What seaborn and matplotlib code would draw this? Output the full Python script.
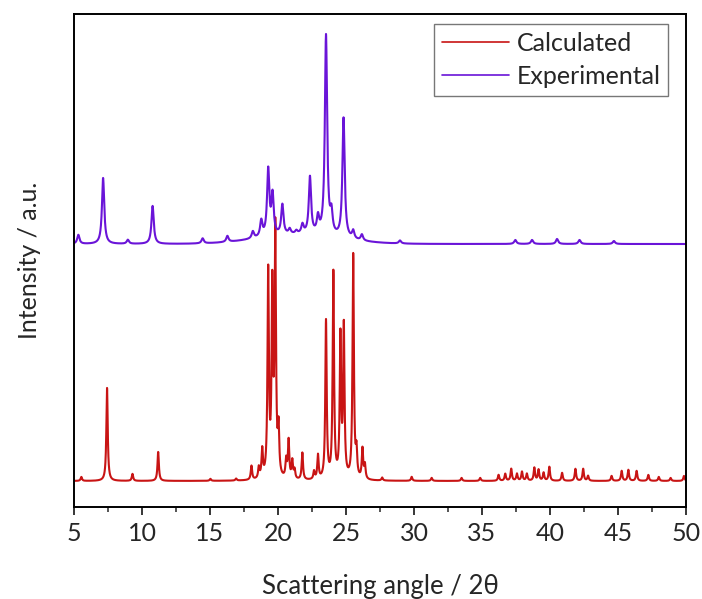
import numpy as np
import pandas as pd
import matplotlib
matplotlib.use("Agg")
import matplotlib.pyplot as plt
import seaborn as sns

# peak positions (2theta), heights above baseline (a.u.)
calc_pos = [5.54, 7.43, 9.30, 11.19, 15.03, 16.92, 18.05, 18.59, 18.84, 19.28, 19.58, 19.80,
            20.04, 20.60, 20.78, 21.05, 21.22, 21.79, 22.65, 22.94, 23.53, 24.07, 24.59, 24.84,
            25.53, 25.77, 26.21, 26.39, 27.66, 29.83, 31.30, 33.50, 34.87, 36.22, 36.71, 37.15,
            37.57, 37.94, 38.30, 38.85, 39.16, 39.53, 39.95, 40.89, 41.87, 42.44, 42.80, 44.53,
            45.27, 45.76, 46.37, 47.23, 48.00, 48.87, 49.85]
calc_height = [4, 93, 7, 29, 2, 2, 14, 11, 28, 205, 185, 245,
               45, 18, 38, 18, 9, 27, 8, 24, 158, 206, 140, 150,
               224, 25, 30, 14, 3, 4, 3, 3, 3, 6, 7, 12,
               7, 9, 7, 13, 11, 8, 14, 8, 12, 12, 5, 5,
               10, 11, 10, 6, 4, 3, 5]
calc_offset = 26

exp_pos = [5.32, 7.14, 8.96, 10.78, 14.46, 16.28, 18.15, 18.77, 19.28, 19.60, 20.32, 20.86,
           21.35, 21.80, 22.35, 22.94, 23.53, 23.93, 24.82, 25.53, 26.17, 28.97, 37.45, 38.68,
           40.52, 42.17, 44.70]
exp_height = [9, 66, 4, 38, 5, 6, 7, 16, 66, 40, 30, 5,
              3, 9, 57, 16, 200, 20, 120, 8, 6, 3, 4, 4,
              5, 4, 3]
exp_offset = 263
hump_center, hump_height, hump_width = 21.5, 9, 7.0

two_theta = np.arange(5, 50.0001, 0.01)


def pattern(pos, height, fwhm):
    y = np.zeros_like(two_theta)
    for c, h in zip(pos, height):
        y += h / (1 + ((two_theta - c) / (fwhm / 2)) ** 2)
    return y


calc = calc_offset + pattern(calc_pos, calc_height, 0.12)
exp = (exp_offset + pattern(exp_pos, exp_height, 0.2)
       + hump_height * np.exp(-0.5 * ((two_theta - hump_center) / (hump_width / 2.355)) ** 2))

df = pd.concat([
    pd.DataFrame({"angle": two_theta, "intensity": calc, "series": "Calculated"}),
    pd.DataFrame({"angle": two_theta, "intensity": exp, "series": "Experimental"}),
])

sns.set_style("white")
plt.rcParams["font.family"] = ["Lato", "DejaVu Sans"]

fig = plt.figure(figsize=(7.02, 5.99), dpi=100)
ax = fig.add_axes([0.1054, 0.1536, 0.8718, 0.823])
sns.lineplot(data=df, x="angle", y="intensity", hue="series",
             palette={"Calculated": "#C81414", "Experimental": "#6A14D8"},
             linewidth=1.5, ax=ax, estimator=None, sort=False)

ax.set_xlim(5, 50)
ax.set_ylim(0, 493)
ax.set_xticks(np.arange(5, 51, 5))
ax.set_xticks(np.arange(7.5, 50, 5), minor=True)
ax.set_yticks([])
ax.tick_params(axis="x", which="major", direction="out", length=6, width=1.3,
               labelsize=18, bottom=True, pad=5)
ax.tick_params(axis="x", which="minor", direction="out", length=3.5, width=1.1, bottom=True)
for s in ax.spines.values():
    s.set_color("black")
    s.set_linewidth(1.4)

ax.set_xlabel("Scattering angle / 2θ", fontsize=18.5, labelpad=21)
ax.set_ylabel("Intensity / a.u.", fontsize=18, labelpad=24)

leg = ax.legend(loc="upper right", bbox_to_anchor=(0.9706, 0.9797), fontsize=18,
                frameon=True, fancybox=False, handlelength=2.7, borderpad=0.3,
                labelspacing=0.42, handletextpad=0.3, borderaxespad=0)
leg.get_frame().set_edgecolor("#555555")
leg.get_frame().set_linewidth(1.0)
for line in leg.get_lines():
    line.set_linewidth(1.2)

fig.savefig("out.png", dpi=100)
